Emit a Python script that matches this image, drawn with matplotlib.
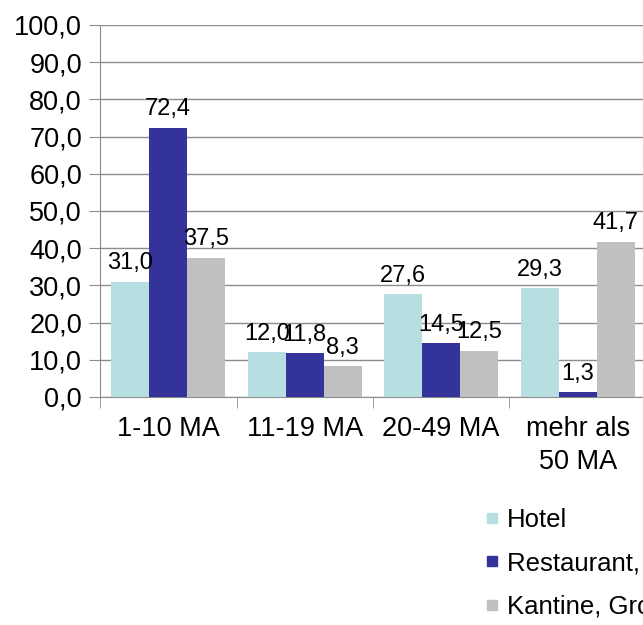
import matplotlib.pyplot as plt
from matplotlib.lines import Line2D
from matplotlib.ticker import FuncFormatter
import numpy as np

plt.rcParams['font.family'] = ['Liberation Sans', 'DejaVu Sans']

categories = ['1-10 MA', '11-19 MA', '20-49 MA', 'mehr als\n50 MA']
series_names = ['Hotel', 'Restaurant, Gaststätte', 'Kantine, Großküche']
hotel = [31.0, 12.0, 27.6, 29.3]
restaurant = [72.4, 11.8, 14.5, 1.3]
kantine = [37.5, 8.3, 12.5, 41.7]
colors = ['#b7dfe2', '#333399', '#c0c0c0']

fig = plt.figure(figsize=(6.43, 6.25), dpi=100)
ax = fig.add_axes([100 / 643, 228 / 625, 546 / 643, 372 / 625])

x = np.arange(len(categories))
w = 0.278
for i, (vals, col) in enumerate(zip([hotel, restaurant, kantine], colors)):
    pos = x + (i - 1) * w
    ax.bar(pos, vals, width=w, color=col, zorder=3)
    for px, v in zip(pos, vals):
        ax.text(px, v + 2.0, f'{v:.1f}'.replace('.', ','), ha='center', va='bottom',
                fontsize=17, zorder=4)

ax.set_xlim(-0.5, 3.5)
ax.set_ylim(0, 100)
ax.set_yticks(np.arange(0, 101, 10))
ax.yaxis.set_major_formatter(FuncFormatter(lambda v, p: f'{v:.1f}'.replace('.', ',')))
ax.grid(axis='y', color='#8c8c8c', linewidth=1, zorder=0)
ax.set_xticks(x)
ax.set_xticklabels(categories, fontsize=19.5, linespacing=1.35)
ax.set_xticks(np.arange(-0.5, 3.6, 1), minor=True)
ax.tick_params(axis='x', which='major', length=0, pad=14)
ax.tick_params(axis='x', which='minor', length=8, color='#8c8c8c')
ax.tick_params(axis='y', length=8, color='#8c8c8c', labelsize=19.5, pad=5)
for s in ['top', 'right']:
    ax.spines[s].set_visible(False)
for s in ['left', 'bottom']:
    ax.spines[s].set_color('#8c8c8c')

handles = [Line2D([], [], marker='s', linestyle='none', markersize=7.5, color=c) for c in colors]
fig.legend(handles, series_names, loc='upper left', bbox_to_anchor=(461 / 643, 1 - 485 / 625),
           frameon=False, fontsize=18.5, handlelength=0.6, handletextpad=0.3, labelspacing=0.75)

fig.savefig('out.png', dpi=100)
